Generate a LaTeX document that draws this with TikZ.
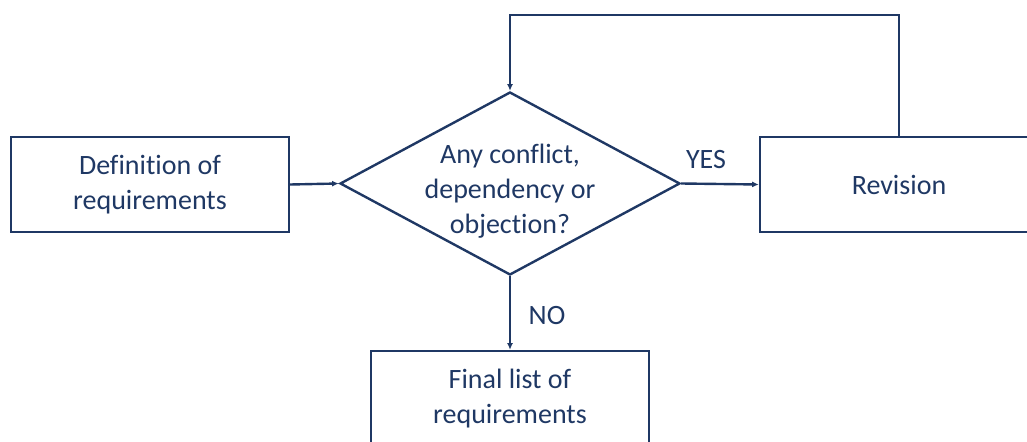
\documentclass[tikz,border=0pt]{standalone}
\usepackage{fontspec}
\setmainfont{Carlito}[Ligatures={NoCommon,NoContextual}]
\usetikzlibrary{shapes.geometric,arrows.meta}
\definecolor{navy}{RGB}{31,56,100}
\tikzset{
  box/.style={draw=navy, line width=1.8pt, text=navy, minimum width=208.5pt, minimum height=71.25pt, inner sep=0pt, align=center, font=\fontsize{21}{26.25}\selectfont},
  arr/.style={draw=navy, line width=1.8pt, -{Latex[length=5pt,width=4.5pt]}},
  lbl/.style={text=navy, font=\fontsize{21}{26.25}\selectfont, inner sep=0pt}
}
\begin{document}
\begin{tikzpicture}[x=0.75pt,y=-0.75pt]
\useasboundingbox (0,0) rectangle (1027,442);
\node[box] (def) at (150,184.5) {Definition of\\requirements};
\node[draw=navy, line width=1.8pt, diamond, minimum width=255pt, minimum height=137.25pt, inner sep=0pt, text=navy, font=\fontsize{21}{26.25}\selectfont] (dia) at (510,183.5)
  {\makebox[0pt]{\smash{\raisebox{-11pt}{\begin{tabular}{@{}c@{}}Any conflict,\\dependency or\\objection?\end{tabular}}}}};
\node[box] (rev) at (899,184.5) {Revision};
\node[box] (fin) at (510,398.5) {Final list of\\requirements};
\coordinate (looptop) at (510,15);
\draw[arr] (def.east) -- (dia.west);
\draw[arr] (dia.east) -- (rev.west);
\draw[arr] (dia.south) -- (fin.north);
\draw[arr] (rev.north) |- (looptop) -- (dia.north);
\node[lbl] (yes) at (706,160) {YES};
\node[lbl] (no) at (547,316) {NO};
\end{tikzpicture}
\end{document}
